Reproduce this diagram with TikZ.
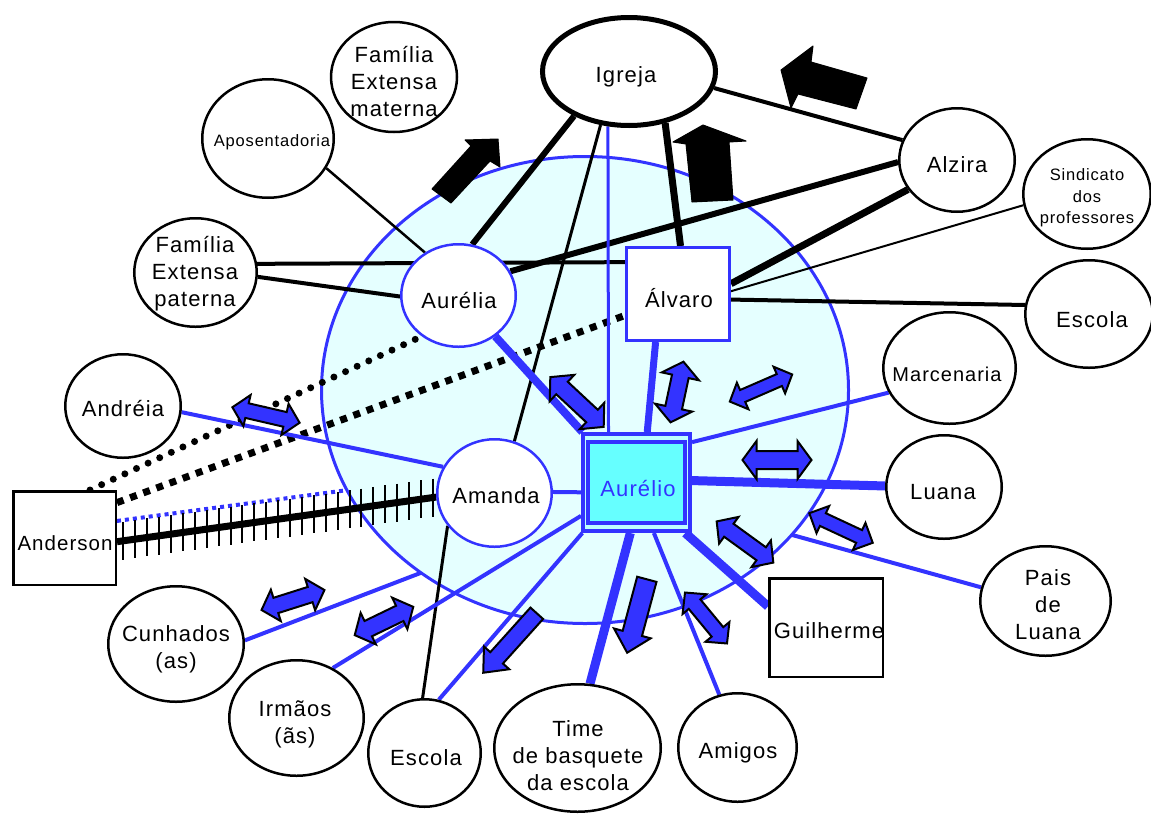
\documentclass[tikz,border=0pt]{standalone}
\usepackage{fontspec}
\setmainfont{Liberation Sans}[LetterSpace=5]
\usetikzlibrary{shapes.geometric,calc}
\definecolor{hblue}{RGB}{51,51,255}
\definecolor{hfill}{RGB}{229,255,255}
\definecolor{acyan}{RGB}{102,255,255}
\definecolor{agap}{RGB}{190,255,255}
\pgfdeclarelayer{behind}
\pgfdeclarelayer{household}
\pgfdeclarelayer{lines}
\pgfsetlayers{behind,household,lines,main}
% double-headed block arrow: cx, cy, angle, length, half shaft, half head, head length
\newcommand{\dbarrow}[7]{\draw[blockarrow, shift={(#1,#2)}, rotate=#3]
  ({-#4/2},0) -- ({-#4/2+#7},{#6}) -- ({-#4/2+#7},{#5}) -- ({#4/2-#7},{#5}) -- ({#4/2-#7},{#6}) --
  ({#4/2},0) -- ({#4/2-#7},{-#6}) -- ({#4/2-#7},{-#5}) -- ({-#4/2+#7},{-#5}) -- ({-#4/2+#7},{-#6}) -- cycle;}
% single-headed block arrow
\newcommand{\sgarrow}[7]{\draw[blockarrow, shift={(#1,#2)}, rotate=#3]
  ({-#4/2},{#5}) -- ({#4/2-#7},{#5}) -- ({#4/2-#7},{#6}) -- ({#4/2},0) --
  ({#4/2-#7},{-#6}) -- ({#4/2-#7},{-#5}) -- ({-#4/2},{-#5}) -- cycle;}
\begin{document}
\begin{tikzpicture}[x=1pt,y=-1pt,
  sz/.style 2 args={minimum width=#1pt, minimum height=#2pt},
  circ/.style={ellipse, draw=black, line width=2.5pt, fill=white, inner sep=0pt},
  bcirc/.style={ellipse, draw=hblue, line width=2.5pt, fill=white, inner sep=0pt},
  box/.style={rectangle, draw=black, line width=2.5pt, fill=white, inner sep=0pt},
  lbl/.style={font=\fontsize{22}{27}\selectfont, align=center, inner sep=0pt},
  blk/.style={draw=black},
  blu/.style={draw=hblue},
  blockarrow/.style={draw=black, line width=2pt, fill=hblue, line join=miter},
  blackarrow/.style={fill=black, draw=black, line width=1pt, line join=round},
]
\useasboundingbox (0,0) rectangle (1151,817);

% ---------- shapes ----------
\node[circ, line width=5pt, sz={173}{108}] (igreja) at (629,71.5) {};
\node[circ, sz={126}{110}] (famMat) at (394,77) {};
\node[circ, sz={131.5}{118.5}] (apos) at (268,138.5) {};
\node[circ, sz={122.5}{108.5}] (famPat) at (195.5,272.5) {};
\node[bcirc, sz={114.5}{102.5}] (aurelia) at (458.5,295.5) {};
\node[box, draw=hblue, line width=3pt, sz={103}{93}] (alvaro) at (678,294) {};
\node[bcirc, sz={114.5}{107.5}] (amanda) at (494.5,493) {};
\node[rectangle, draw=hblue, line width=4pt, fill=agap, inner sep=0pt, sz={107}{97}] (aurelio) at (636.5,482.5) {};
\node[rectangle, draw=hblue, line width=4pt, fill=acyan, inner sep=0pt, sz={97}{81}] (aurelioIn) at (636.5,482.5) {};
\node[circ, sz={115.5}{103.5}] (alzira) at (957,160) {};
\node[circ, sz={127.5}{109.5}] (sind) at (1087,194) {};
\node[circ, sz={127.5}{107.5}] (escR) at (1089,314) {};
\node[circ, sz={132.5}{111.5}] (marc) at (949.5,368) {};
\node[circ, sz={115.5}{103.5}] (luana) at (944,487) {};
\node[circ, sz={130.5}{109.5}] (paisL) at (1045.5,601) {};
\node[box, sz={113.5}{98.5}] (guil) at (826,627.5) {};
\node[circ, sz={118.5}{108.5}] (amigos) at (737.5,747.5) {};
\node[circ, sz={166.5}{127.5}] (time) at (577.5,748) {};
\node[circ, sz={112.5}{107.5}] (escB) at (424.5,753) {};
\node[circ, sz={134.5}{115.5}] (irmaos) at (296.5,718) {};
\node[circ, sz={135.5}{115.5}] (cunh) at (176,644) {};
\node[circ, sz={115.5}{103.5}] (andreia) at (123,406) {};
\node[box, sz={102.5}{93.5}] (anderson) at (64.5,538) {};

% ---------- household ----------
\begin{pgfonlayer}{household}
\node[ellipse, draw=hblue, line width=3pt, fill=hfill, inner sep=0pt, sz={527}{467}] (household) at (585,390) {};
\end{pgfonlayer}

% ---------- links hidden behind the household ----------
\begin{pgfonlayer}{behind}
\draw[blu, line width=4pt, dash pattern=on 4pt off 4pt] (anderson.18) -- (amanda.165);
\draw[blu, line width=4pt] (cunh.3) -- (amanda.-98);
\draw[blu, line width=4pt] (aurelio.-24) -- (paisL.168);
\end{pgfonlayer}

% ---------- links ----------
\begin{pgfonlayer}{lines}
% black
\draw[blk, line width=6pt] (igreja.-141) -- (aurelia.75);
\draw[blk, line width=3pt] (igreja.-118.6) -- (amanda.69);
\draw[blk, line width=3pt] (amanda.-145.5) -- (escB.92);
\draw[blk, line width=7pt] (igreja.-55.8) -- (alvaro.87.6);
\draw[blk, line width=4pt] (igreja.-11.8) -- (alzira.160.7);
\draw[blk, line width=6pt] (alzira.-178) -- (aurelia.25.3);
\draw[blk, line width=7pt] (alzira.-149) -- (alvaro.11.7);
\draw[blk, line width=2pt] (sind.-170.4) -- (alvaro.3.2);
\draw[blk, line width=4pt] (escR.172.9) -- (alvaro.-6.5);
\draw[blk, line width=4pt] (famPat.8.3) -- (alvaro.149.7);
\draw[blk, line width=4pt] (famPat.-4.6) -- (aurelia.-179);
\draw[blk, line width=2.5pt] (apos.-27.7) -- (aurelia.128.5);
\draw[blk, line width=7pt, dash pattern=on 0pt off 12.8pt, line cap=round] (anderson.62) -- (aurelia.-132.8);
\draw[blk, line width=7pt, dash pattern=on 7pt off 7pt] (anderson.34.2) -- (alvaro.-158.5);
\draw[blk, line width=7pt] (anderson.-4.4) -- (amanda.-176);
\foreach \k in {0,...,26}
  \draw[blk, line width=2pt] ($(anderson.-4.4)!{0.02+\k*0.0373}!(amanda.-176)$) +(0,-19) -- +(0,19);
% blue
\draw[blu, line width=8pt] (aurelio.137) -- (aurelia.-48);
\draw[blu, line width=7pt] (aurelio.78.3) -- (alvaro.-115.6);
\draw[blu, line width=3pt] (aurelio.119.4) -- (igreja.-111.3);
\draw[blu, line width=4pt] (aurelio.36.8) -- (marc.-158.8);
\draw[blu, line width=9pt] (aurelio.2.6) -- (luana.179);
\draw[blu, line width=4pt] (aurelio.-170.3) -- (amanda.1);
\draw[blu, line width=9pt] (aurelio.-97.3) -- (time.79.1);
\draw[blu, line width=4pt] (aurelio.-71.9) -- (amigos.109);
\draw[blu, line width=9pt] (aurelio.-46.8) -- (guil.160.5);
\draw[blu, line width=4pt] (aurelio.-149.6) -- (irmaos.54.8);
\draw[blu, line width=4pt] (aurelio.-137) -- (escB.75.2);
\draw[blu, line width=4pt] (amanda.153.6) -- (andreia.-6.8);
\end{pgfonlayer}

% ---------- labels ----------
\node[lbl] (igrejaT) at (626,77) {Igreja};
\node[lbl] (famMatT) at (394,82) {Família\\Extensa\\materna};
\node[lbl, font=\fontsize{16.5}{18}\selectfont] (aposT) at (272,142) {Aposentadoria};
\node[lbl] (famPatT) at (195,274) {Família\\Extensa\\paterna};
\node[lbl] (aureliaT) at (459,301) {Aurélia};
\node[lbl] (alvaroT) at (679,298) {Álvaro};
\node[lbl] (amandaT) at (496,496) {Amanda};
\node[lbl, text=hblue] (aurelioT) at (638,488) {Aurélio};
\node[lbl] (alziraT) at (957,165) {Alzira};
\node[lbl, font=\fontsize{16.5}{21.5}\selectfont] (sindT) at (1087,198) {Sindicato\\dos\\professores};
\node[lbl] (escRT) at (1092,320) {Escola};
\node[lbl, font=\fontsize{20}{22}\selectfont] (marcT) at (947,374) {Marcenaria};
\node[lbl] (luanaT) at (943,492) {Luana};
\node[lbl] (paisLT) at (1048,605) {Pais\\de\\Luana};
\node[lbl] (guilT) at (829,631) {Guilherme};
\node[lbl] (amigosT) at (738,753) {Amigos};
\node[lbl] (timeT) at (578,756) {Time\\de basquete\\da escola};
\node[lbl] (escBT) at (426,758) {Escola};
\node[lbl] (irmaosT) at (295,724) {Irmãos\\(ãs)};
\node[lbl] (cunhT) at (176,649) {Cunhados\\(as)};
\node[lbl] (andreiaT) at (123,409) {Andréia};
\node[lbl, font=\fontsize{20.5}{22}\selectfont] (andersonT) at (65,543) {Anderson};

% ---------- black block arrows ----------
\filldraw[blackarrow] (498,139) -- (500,167) -- (490,161) -- (451,203) -- (432,189) -- (471,146) -- (465,140) -- cycle;
\filldraw[blackarrow] (703,125) -- (746,141) -- (729,142) -- (733,200) -- (692,202) -- (686,144) -- (673,142) -- cycle;
\filldraw[blackarrow] (781,70) -- (813,46) -- (811,62) -- (867,78) -- (856,109) -- (798,94) -- (791,108) -- cycle;

% ---------- blue block arrows ----------
\dbarrow{266}{415}{-13}{69}{7.5}{16}{15}
\dbarrow{577}{402}{-43}{73}{8.5}{18}{16}
\dbarrow{677}{392}{78}{62}{8.5}{19}{15}
\dbarrow{761}{388}{23.5}{68}{6.5}{14.5}{14}
\dbarrow{777}{460}{0}{69}{9}{19}{14}
\dbarrow{745}{542}{-36}{70}{8}{16.5}{15}
\dbarrow{841}{528}{-25}{70}{7}{15}{15}
\dbarrow{706}{618}{-50.5}{66}{7.5}{15.5}{15}
\dbarrow{293}{600}{17.6}{66}{8}{16.5}{15}
\dbarrow{384}{621}{25.8}{65}{8.5}{17.5}{15}
\sgarrow{510}{643}{-132}{80}{8.5}{17}{20}
\sgarrow{637}{616}{-105}{76}{10}{19}{20}
\end{tikzpicture}
\end{document}
